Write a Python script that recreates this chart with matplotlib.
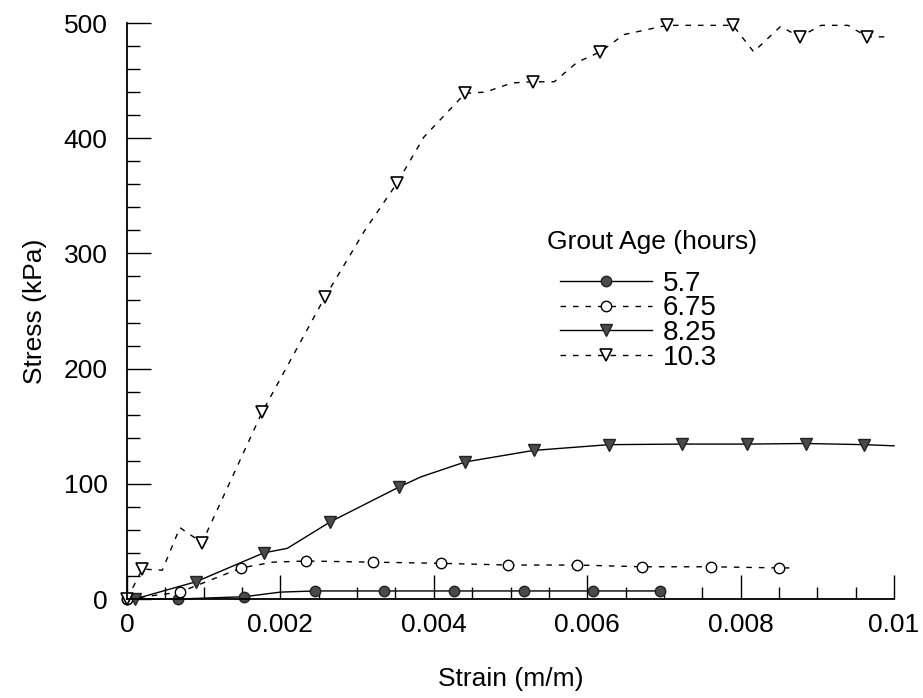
import matplotlib.pyplot as plt
from matplotlib.ticker import MultipleLocator

plt.rcParams['font.family'] = ['Liberation Sans', 'DejaVu Sans']

# --- DATA (strain in m/m, stress in kPa) ---
# each curve: line vertices, plus the indices that carry a marker
strain_57 = [0.0, 0.00067, 0.00153, 0.0020, 0.00245, 0.00335, 0.00426, 0.00517, 0.00607, 0.00695]
stress_57 = [0.0, 0.0, 2.0, 6.0, 7.0, 7.0, 7.0, 7.0, 7.0, 7.0]
marks_57 = [0, 1, 2, 4, 5, 6, 7, 8, 9]

strain_675 = [0.0, 0.00069, 0.00149, 0.0019, 0.00234, 0.00321, 0.00409, 0.00497,
              0.00587, 0.00672, 0.00761, 0.0085, 0.00872]
stress_675 = [0.0, 6.0, 27.0, 32.0, 33.0, 32.0, 31.0, 29.5, 29.5, 28.0, 28.0, 27.0, 27.0]
marks_675 = [0, 1, 2, 4, 5, 6, 7, 8, 9, 10, 11]

strain_825 = [0.0001, 0.0009, 0.00178, 0.00209, 0.00265, 0.00354, 0.00383, 0.00441,
              0.0053, 0.00628, 0.00723, 0.00808, 0.00885, 0.00961, 0.01]
stress_825 = [0.0, 15.0, 40.0, 44.0, 67.0, 97.0, 106.0, 119.0,
              129.0, 134.0, 134.5, 134.5, 135.0, 134.0, 133.0]
marks_825 = [0, 1, 2, 4, 5, 7, 8, 9, 10, 11, 12, 13]

strain_103 = [0.0, 0.0002, 0.00046, 0.00069, 0.00082, 0.00098, 0.00176, 0.00258, 0.0031,
              0.00352, 0.00387, 0.00441, 0.00467, 0.00502, 0.00529, 0.00557, 0.00587,
              0.00617, 0.00648, 0.00704, 0.0079, 0.00817, 0.00852, 0.00877, 0.00905,
              0.0094, 0.00965, 0.00996]
stress_103 = [0.0, 26.0, 25.0, 62.0, 56.0, 49.0, 162.0, 262.0, 320.0,
              361.0, 401.0, 439.0, 440.0, 448.0, 449.0, 449.0, 466.0,
              475.0, 490.0, 498.0, 498.0, 475.0, 497.0, 488.0, 498.0,
              498.0, 488.0, 488.0]
marks_103 = [0, 1, 5, 6, 7, 9, 11, 14, 17, 19, 20, 23, 26]

labels = ['5.7', '6.75', '8.25', '10.3']
xtick_vals = [0, 0.002, 0.004, 0.006, 0.008, 0.01]
xtick_text = ['0', '0.002', '0.004', '0.006', '0.008', '0.01']

# --- FIGURE ---
fig = plt.figure(figsize=(9.23, 6.98), dpi=100)
ax = fig.add_axes([0.1376, 0.1418, 0.831, 0.8252])

dash = (0, (4, 5))
fill = '#4a4a4a'

ax.plot(strain_57, stress_57, '-', color='black', lw=1.0, marker='o', ms=7.5,
        mfc=fill, mec='#222222', markevery=marks_57, label=labels[0], clip_on=False)
ax.plot(strain_675, stress_675, linestyle=dash, color='black', lw=1.0, marker='o', ms=7.5,
        mfc='white', mec='black', mew=1.0, markevery=marks_675, label=labels[1], clip_on=False)
ax.plot(strain_825, stress_825, '-', color='black', lw=1.0, marker='v', ms=9,
        mfc=fill, mec='#222222', markevery=marks_825, label=labels[2], clip_on=False)
ax.plot(strain_103, stress_103, linestyle=dash, color='black', lw=1.0, marker='v', ms=9,
        mfc='white', mec='black', mew=1.2, markevery=marks_103, label=labels[3], clip_on=False)

ax.set_xlim(0, 0.01)
ax.set_ylim(0, 500)
ax.xaxis.set_minor_locator(MultipleLocator(0.0005))
ax.yaxis.set_major_locator(MultipleLocator(100))
ax.yaxis.set_minor_locator(MultipleLocator(20))
ax.set_xticks(xtick_vals)
ax.set_xticklabels(xtick_text)

ax.tick_params(which='major', direction='in', length=17, width=1, labelsize=19)
ax.tick_params(which='minor', direction='in', length=9, width=1)
ax.tick_params(axis='x', pad=10)
ax.tick_params(axis='y', pad=14)

for side in ['top', 'right']:
    ax.spines[side].set_visible(False)
for side in ['left', 'bottom']:
    ax.spines[side].set_linewidth(1.3)

ax.set_xlabel('Strain (m/m)', fontsize=19, labelpad=22)
ax.set_ylabel('Stress (kPa)', fontsize=19, labelpad=12)

# legend: title drawn as its own text, entries packed tightly below it
fig.text(0.7064, 0.6533, 'Grout Age (hours)', fontsize=19, ha='center', va='center')
leg = ax.legend(loc='upper left', bbox_to_anchor=(0.607, 0.612), bbox_transform=fig.transFigure,
                frameon=False, fontsize=20, handlelength=3.3, labelspacing=-0.05,
                handletextpad=0.4, borderpad=0, borderaxespad=0)

fig.savefig('out.png', dpi=100)
